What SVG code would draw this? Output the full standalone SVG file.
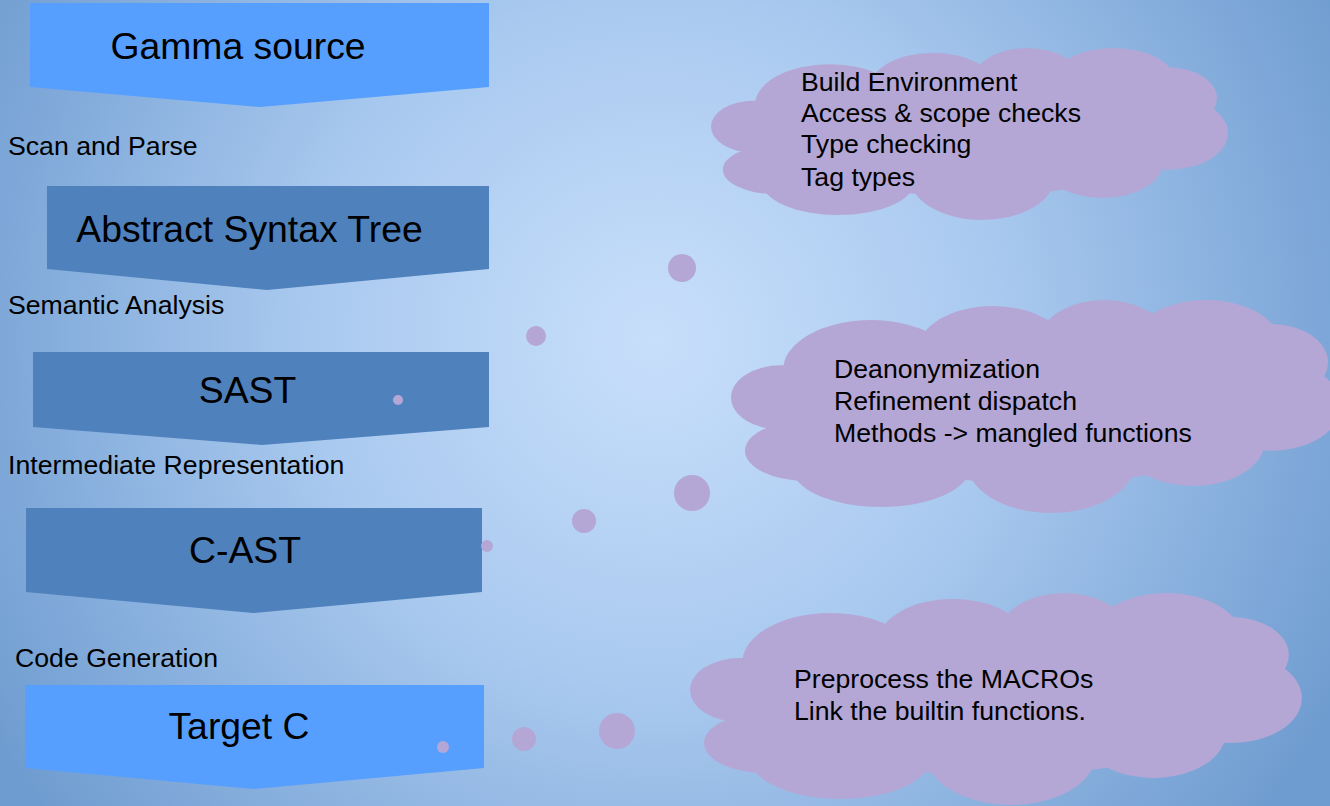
<svg xmlns="http://www.w3.org/2000/svg" xmlns:xlink="http://www.w3.org/1999/xlink" width="1330" height="806" viewBox="0 0 1330 806">
  <defs>
    <radialGradient id="bg" gradientUnits="userSpaceOnUse" cx="655" cy="340" r="770">
      <stop offset="0" stop-color="#C8DFFB"/>
      <stop offset="0.45" stop-color="#A9C9EF"/>
      <stop offset="1" stop-color="#6F9CD0"/>
    </radialGradient>
    <g id="cloud">
      <ellipse cx="305" cy="106" rx="260" ry="76"/>
      <ellipse cx="50" cy="97" rx="50" ry="32"/>
      <ellipse cx="75" cy="150" rx="61" ry="30"/>
      <ellipse cx="140" cy="70" rx="88" ry="50"/>
      <ellipse cx="262" cy="50" rx="75" ry="44"/>
      <ellipse cx="373" cy="42" rx="65" ry="42"/>
      <ellipse cx="475" cy="45" rx="75" ry="45"/>
      <ellipse cx="540" cy="62" rx="57" ry="38"/>
      <ellipse cx="540" cy="105" rx="70" ry="45"/>
      <ellipse cx="462" cy="140" rx="72" ry="45"/>
      <ellipse cx="320" cy="160" rx="85" ry="52"/>
      <ellipse cx="150" cy="165" rx="90" ry="41"/>
    </g>
  </defs>
  <style>
    .light { fill: #569FFF; }
    .dark { fill: #4F81BD; }
    .big { font-family: "Liberation Sans", Arial, sans-serif; font-size: 37.33px; fill: #000; text-anchor: middle; }
    .lbl { font-family: "Liberation Sans", Arial, sans-serif; font-size: 26.67px; fill: #000; }
    .cloud { fill: #B4A7D6; }
    .bubble { fill: #B4A7D6; }
  </style>

  <rect x="0" y="0" width="1330" height="806" fill="url(#bg)"/>

  <g id="gamma-source">
    <polygon class="light" points="30,3 489,3 489,87 260,107 30,87"/>
    <text class="big" x="238" y="59">Gamma source</text>
  </g>
  <g id="ast">
    <polygon class="dark" points="47,186 489,186 489,269 267,290 47,269"/>
    <text class="big" x="249.5" y="242">Abstract Syntax Tree</text>
  </g>
  <g id="sast">
    <polygon class="dark" points="33,352 489,352 489,427 262,445 33,427"/>
    <text class="big" x="247.5" y="403">SAST</text>
  </g>
  <g id="c-ast">
    <polygon class="dark" points="26,508 482,508 482,592 253,613 26,592"/>
    <text class="big" x="245" y="563">C-AST</text>
  </g>
  <g id="target-c">
    <polygon class="light" points="25,685 484,685 484,768 253,789 25,768"/>
    <text class="big" x="239" y="739">Target C</text>
  </g>

  <g id="stage-labels">
    <text class="lbl" x="8" y="155">Scan and Parse</text>
    <text class="lbl" x="8" y="314">Semantic Analysis</text>
    <text class="lbl" x="8" y="474">Intermediate Representation</text>
    <text class="lbl" x="15" y="667">Code Generation</text>
  </g>

  <g id="cloud-semantic">
    <use class="cloud" xlink:href="#cloud" href="#cloud" transform="translate(711,48) scale(0.8475,0.811)"/>
    <text class="lbl" x="801" y="91">Build Environment</text>
    <text class="lbl" x="801" y="122">Access &amp; scope checks</text>
    <text class="lbl" x="801" y="153">Type checking</text>
    <text class="lbl" x="801" y="186">Tag types</text>
  </g>
  <g id="cloud-ir">
    <use class="cloud" xlink:href="#cloud" href="#cloud" transform="translate(731,300) scale(1.0,1.005)"/>
    <text class="lbl" x="834" y="378">Deanonymization</text>
    <text class="lbl" x="834" y="410">Refinement dispatch</text>
    <text class="lbl" x="834" y="442">Methods -&gt; mangled functions</text>
  </g>
  <g id="cloud-codegen">
    <use class="cloud" xlink:href="#cloud" href="#cloud" transform="translate(690,593) scale(1.003,1)"/>
    <text class="lbl" x="794" y="688">Preprocess the MACROs</text>
    <text class="lbl" x="794" y="720">Link the builtin functions.</text>
  </g>

  <g id="connectors">
    <circle class="bubble" cx="398" cy="400" r="5"/>
    <circle class="bubble" cx="536" cy="336" r="10"/>
    <circle class="bubble" cx="682" cy="268" r="14"/>
    <circle class="bubble" cx="487" cy="546" r="6"/>
    <circle class="bubble" cx="584" cy="521" r="12"/>
    <circle class="bubble" cx="692" cy="493" r="18"/>
    <circle class="bubble" cx="443" cy="747" r="6"/>
    <circle class="bubble" cx="524" cy="739" r="12"/>
    <circle class="bubble" cx="617" cy="731" r="18"/>
  </g>
</svg>
